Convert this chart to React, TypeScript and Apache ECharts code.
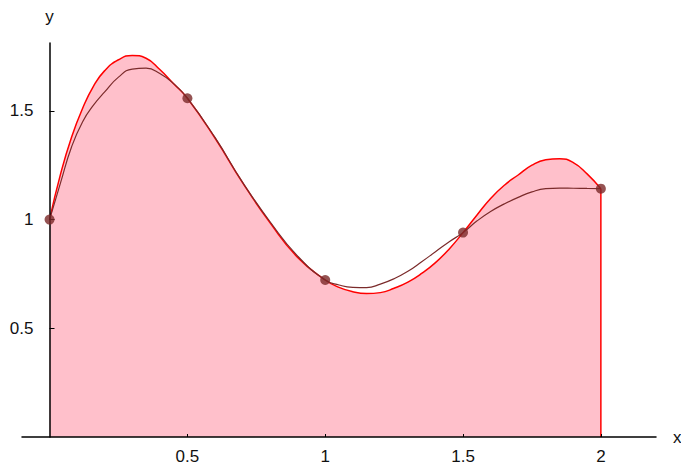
import React, { useEffect, useRef } from "react";
import * as echarts from "echarts";

// Sample points (dots)
const pointsX = [0, 0.5, 1, 1.5, 2];
const pointsY = [1.0, 1.558, 0.722, 0.94, 1.142];

// Red (filled) interpolating curve
const redX = [0, 0.04, 0.08, 0.12, 0.16, 0.2, 0.25, 0.3, 0.35, 0.4, 0.45, 0.5,
  0.6, 0.7, 0.8, 0.9, 1.0, 1.05, 1.1, 1.15, 1.2, 1.25, 1.3, 1.35, 1.4, 1.45, 1.5,
  1.55, 1.6, 1.65, 1.7, 1.75, 1.8, 1.85, 1.9, 1.95, 2.0];
const redY = [1.0, 1.21, 1.38, 1.512, 1.615, 1.685, 1.735, 1.755, 1.742, 1.69, 1.625, 1.558,
  1.375, 1.17, 0.985, 0.826, 0.722, 0.688, 0.668, 0.66, 0.664, 0.684, 0.712, 0.752, 0.802, 0.865, 0.94,
  1.02, 1.097, 1.158, 1.205, 1.25, 1.275, 1.28, 1.262, 1.21, 1.142];

// Dark interpolating curve
const darkX = [0, 0.04, 0.08, 0.12, 0.16, 0.2, 0.25, 0.3, 0.35, 0.4, 0.45, 0.5,
  0.6, 0.7, 0.8, 0.9, 1.0, 1.05, 1.1, 1.15, 1.2, 1.25, 1.3, 1.35, 1.4, 1.45, 1.5,
  1.55, 1.6, 1.65, 1.7, 1.75, 1.8, 1.85, 1.9, 1.95, 2.0];
const darkY = [1.0, 1.17, 1.335, 1.45, 1.527, 1.587, 1.655, 1.692, 1.696, 1.672, 1.625, 1.558,
  1.378, 1.172, 0.99, 0.832, 0.722, 0.699, 0.688, 0.687, 0.703, 0.728, 0.762, 0.806, 0.852, 0.898, 0.94,
  0.993, 1.037, 1.072, 1.102, 1.127, 1.142, 1.145, 1.144, 1.143, 1.142];

const xTicks = [0.5, 1, 1.5, 2];
const yTicks = [0.5, 1, 1.5];

const zip = (xs: number[], ys: number[]) => xs.map((x, i) => [x, ys[i]]);

export default function App() {
  const ref = useRef<HTMLDivElement>(null);
  useEffect(() => {
    document.body.style.margin = "0";
    const chart = echarts.init(ref.current!, undefined, { renderer: "svg" });
    const labelStyle = {
      fontFamily: "Liberation Sans, Arial, sans-serif",
      fontSize: 17,
      color: "#111",
    };
    chart.setOption({
      animation: false,
      grid: {
        left: 22,
        top: 43,
        right: 25,
        bottom: 33,
        containLabel: false,
        outerBoundsMode: "none",
      },
      xAxis: {
        type: "value",
        min: -0.1,
        max: 2.2,
        z: 5,
        name: "x",
        nameLocation: "end",
        nameGap: 17,
        nameTextStyle: { ...labelStyle },
        splitLine: { show: false },
        axisLine: { show: true, onZero: false, lineStyle: { color: "#000", width: 1.5 } },
        axisTick: { show: true, inside: true, length: 3, customValues: xTicks, lineStyle: { color: "#000" } },
        axisLabel: { customValues: xTicks, margin: 11, ...labelStyle },
      },
      yAxis: {
        type: "value",
        min: 0,
        max: 1.812,
        z: 5,
        offset: -27.5,
        name: "y",
        nameLocation: "end",
        nameGap: 18,
        nameTextStyle: { ...labelStyle },
        splitLine: { show: false },
        axisLine: { show: true, onZero: false, lineStyle: { color: "#000", width: 1.5 } },
        axisTick: { show: true, inside: true, length: 5, customValues: yTicks, lineStyle: { color: "#000" } },
        axisLabel: { customValues: yTicks, margin: 16, ...labelStyle },
      },
      series: [
        {
          type: "line",
          data: zip(redX, redY),
          smooth: 0.5,
          showSymbol: false,
          z: 2,
          lineStyle: { color: "#ff0000", width: 1.5 },
          areaStyle: { color: "#ffc0cb", opacity: 1 },
        },
        {
          type: "line",
          data: [[2, redY[redY.length - 1]], [2, 0]],
          showSymbol: false,
          z: 3,
          lineStyle: { color: "#ff0000", width: 1.5 },
        },
        {
          type: "line",
          data: zip(darkX, darkY),
          smooth: 0.5,
          showSymbol: false,
          z: 4,
          lineStyle: { color: "#7b2b2b", width: 1.2 },
        },
        {
          type: "scatter",
          data: zip(pointsX, pointsY),
          symbolSize: 10,
          z: 10,
          itemStyle: { color: "#7a2828" },
        },
      ],
    });
    return () => chart.dispose();
  }, []);
  return <div ref={ref} style={{ width: 681, height: 470 }} />;
}
